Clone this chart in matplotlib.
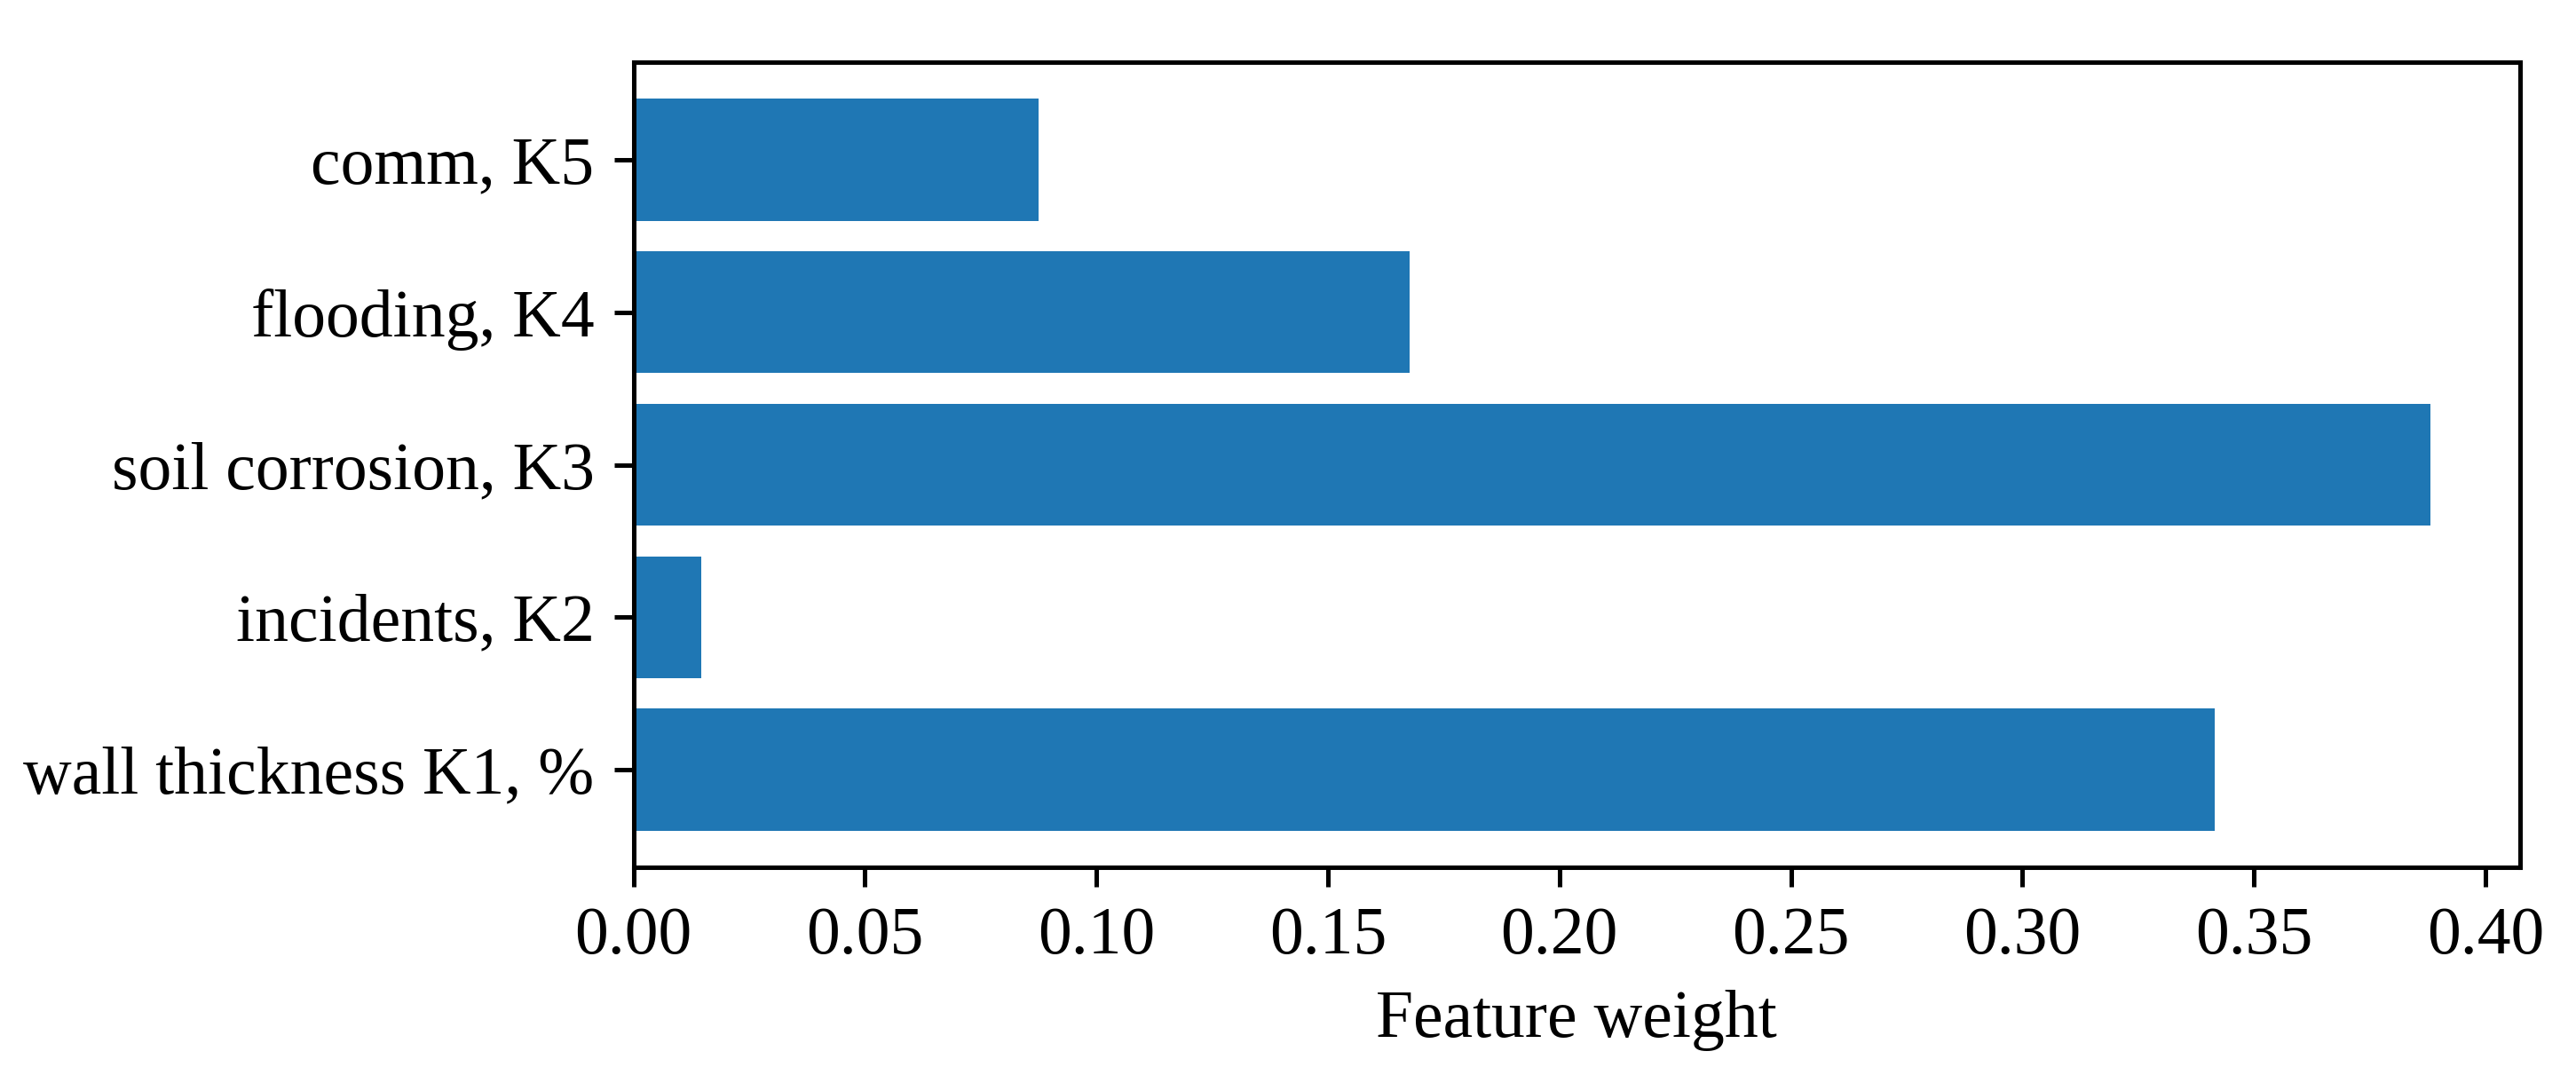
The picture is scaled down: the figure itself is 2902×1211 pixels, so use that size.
import matplotlib
matplotlib.use("Agg")
import matplotlib.pyplot as plt

# feature weights, bottom to top
features = [
    "wall thickness K1, %",
    "incidents, K2",
    "soil corrosion, K3",
    "flooding, K4",
    "comm, K5",
]
weights = [0.3416, 0.0146, 0.3881, 0.1677, 0.0876]

xticks = [0.00, 0.05, 0.10, 0.15, 0.20, 0.25, 0.30, 0.35, 0.40]

plt.rcParams["font.family"] = ["Liberation Serif", "DejaVu Serif"]
plt.rcParams["font.size"] = 12

DPI = 2902 / 6.4
fig = plt.figure(figsize=(6.4, 1211 / DPI), dpi=DPI)
ax = fig.add_axes([0.2459, 0.1932, 0.7324, 0.749])

ax.barh(features, weights, color="#1f77b4")
ax.set_xticks(xticks)
ax.set_xticklabels([f"{t:.2f}" for t in xticks])
ax.set_xlabel("Feature weight")

fig.savefig("out.png", dpi=DPI, facecolor="white")
